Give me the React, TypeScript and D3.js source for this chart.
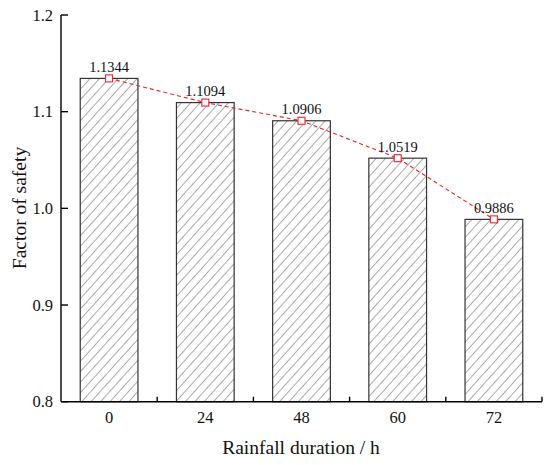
import React from "react";
import * as d3 from "d3";

const categories = ["0", "24", "48", "60", "72"];
const values = [1.1344, 1.1094, 1.0906, 1.0519, 0.9886];
const labels = ["1.1344", "1.1094", "1.0906", "1.0519", "0.9886"];
const yTicks = [0.8, 0.9, 1.0, 1.1, 1.2];

const W = 550;
const H = 465;
const left = 61;
const right = 542;
const top = 15;
const bottom = 401.7;
const font = "'Liberation Serif', 'DejaVu Serif', serif";

export default function App() {
  const x = d3.scaleBand<string>().domain(categories).range([left, right]).paddingInner(0).paddingOuter(0);
  const y = d3.scaleLinear().domain([0.8, 1.2]).range([bottom, top]);
  const bw = x.bandwidth() * 0.6;
  const cx = (c: string) => (x(c) as number) + x.bandwidth() / 2;
  const line = d3
    .line<number>()
    .x((_, i) => cx(categories[i]))
    .y((d) => y(d));
  const boundaries = categories.map((c) => (x(c) as number) + x.bandwidth());

  return (
    <svg width={W} height={H} style={{ position: "absolute", left: 0, top: 0, background: "#fff" }}>
      <defs>
        <pattern id="hatch" patternUnits="userSpaceOnUse" width={7} height={7} patternTransform="rotate(42)">
          <line x1={0} y1={0} x2={0} y2={7} stroke="#555" strokeWidth={1} />
        </pattern>
      </defs>
      {categories.map((c, i) => (
        <rect
          key={c}
          x={cx(c) - bw / 2}
          y={y(values[i])}
          width={bw}
          height={bottom - y(values[i])}
          fill="url(#hatch)"
          stroke="#333"
          strokeWidth={1.2}
        />
      ))}
      <line x1={left} y1={top} x2={left} y2={bottom} stroke="#000" strokeWidth={1.4} />
      <line x1={left} y1={bottom} x2={right} y2={bottom} stroke="#000" strokeWidth={1.4} />
      {yTicks.map((t) => (
        <g key={t}>
          <line x1={left} x2={left + 7} y1={y(t)} y2={y(t)} stroke="#000" strokeWidth={1.4} />
          <text x={left - 8} y={y(t)} dy="0.35em" textAnchor="end" fontFamily={font} fontSize={16.5} fill="#111">
            {t.toFixed(1)}
          </text>
        </g>
      ))}
      {boundaries.map((b, i) => (
        <line key={i} x1={b} x2={b} y1={bottom} y2={bottom - 5} stroke="#000" strokeWidth={1.4} />
      ))}
      {categories.map((c) => (
        <text key={c} x={cx(c)} y={422.5} textAnchor="middle" fontFamily={font} fontSize={16.5} fill="#111">
          {c}
        </text>
      ))}
      <path d={line(values) || ""} fill="none" stroke="#e8242c" strokeWidth={1.1} strokeDasharray="4,3" />
      {values.map((v, i) => (
        <rect
          key={i}
          x={cx(categories[i]) - 3.5}
          y={y(v) - 3.5}
          width={7}
          height={7}
          fill="#fff"
          stroke="#e8242c"
          strokeWidth={1.1}
        />
      ))}
      {values.map((v, i) => (
        <text key={i} x={cx(categories[i])} y={y(v) - 6.5} textAnchor="middle" fontFamily={font} fontSize={14.5} fill="#111">
          {labels[i]}
        </text>
      ))}
      <text x={301} y={454} textAnchor="middle" fontFamily={font} fontSize={19.5} fill="#111">
        Rainfall duration / h
      </text>
      <text
        transform={`translate(26, 208) rotate(-90)`}
        textAnchor="middle"
        fontFamily={font}
        fontSize={19.5}
        fill="#111"
      >
        Factor of safety
      </text>
    </svg>
  );
}
